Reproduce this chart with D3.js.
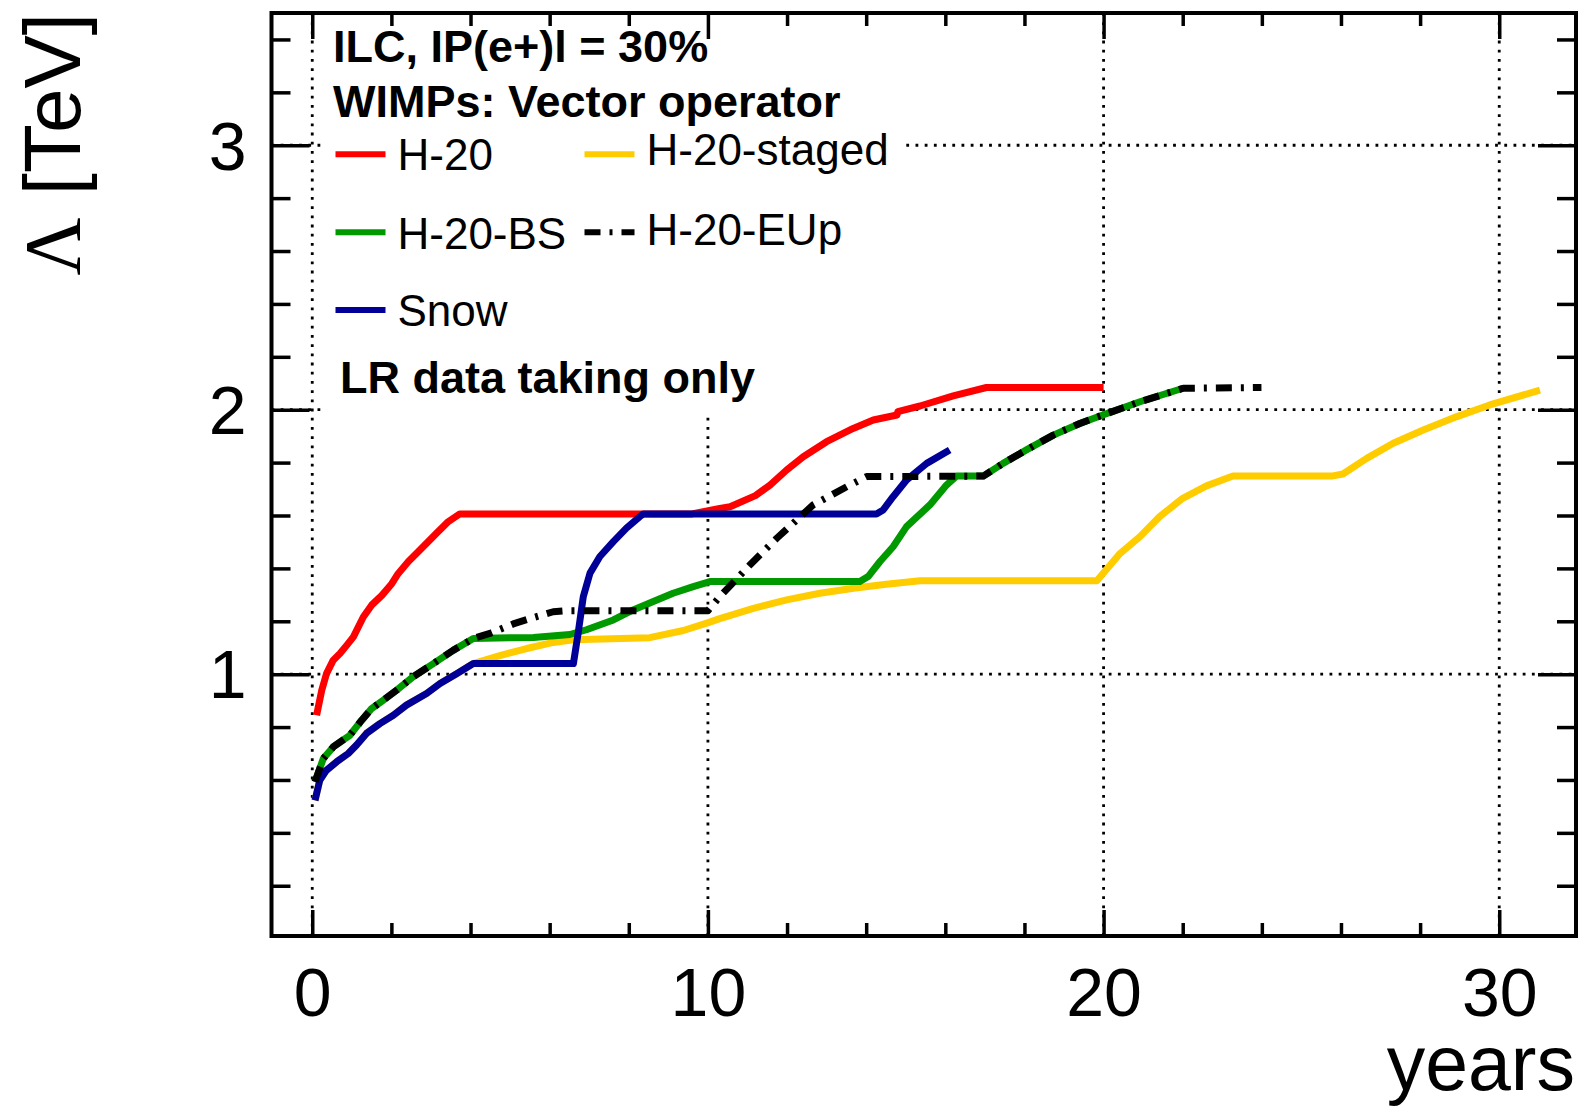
<!DOCTYPE html>
<html lang="en">
  <head>
    <meta charset="utf-8">
    <title>WIMPs vector operator reach vs years</title>
    <style>
      body { margin: 0; background: #fff; }
      text { font-family: "Liberation Sans", Arial, Helvetica, sans-serif; }
      .curve { fill: none; stroke-width: 7; stroke-linejoin: round; }
    </style>
    <script type="text/javascript" src="https://cdn.jsdelivr.net/npm/d3@7"></script>
  </head>
  <body>
  <svg width="1586" height="1107"></svg>
    <script>
// tick values
var xMajor = [0, 10, 20, 30];
var xMinor = [2, 4, 6, 8, 12, 14, 16, 18, 22, 24, 26, 28];
var yMajor = [1, 2, 3];
var yMinor = [0.2, 0.4, 0.6, 0.8, 1.2, 1.4, 1.6, 1.8, 2.2, 2.4, 2.6, 2.8, 3.2, 3.4];

// series: [years, Lambda in TeV]
var h20 = [[0.11,0.845],[0.24,0.939],[0.36,1.002],[0.53,1.053],[0.70,1.078],[0.87,1.109],[1.04,1.141],
  [1.29,1.216],[1.50,1.261],[1.76,1.298],[2.01,1.342],[2.17,1.38],[2.43,1.426],[2.64,1.457],[2.89,1.495],
  [3.14,1.533],[3.44,1.577],[3.73,1.606],[9.60,1.606],[10.30,1.627],[10.56,1.633],[11.20,1.675],[11.57,1.715],
  [11.99,1.772],[12.41,1.822],[13.0,1.879],[13.67,1.929],[14.18,1.961],[14.78,1.980],[14.80,1.993],
  [15.36,2.014],[16.20,2.052],[17.04,2.084],[20.0,2.084]];

var h20staged = [[0.07,0.523],[0.19,0.599],[0.36,0.637],[0.62,0.669],[0.91,0.70],[1.12,0.732],[1.37,0.776],
  [1.71,0.813],[2.05,0.845],[2.38,0.883],[2.89,0.927],[3.23,0.965],[3.65,1.002],[4.07,1.04],[4.74,1.07],
  [5.42,1.097],[6.09,1.12],[6.60,1.13],[8.53,1.138],[9.38,1.165],[9.97,1.193],[10.30,1.21],[11.15,1.249],
  [11.99,1.281],[12.83,1.306],[13.68,1.325],[14.51,1.34],[15.36,1.353],[19.83,1.353],[20.42,1.457],
  [20.92,1.52],[21.42,1.596],[22.0,1.665],[22.6,1.712],[23.27,1.749],[25.76,1.749],[26.05,1.757],
  [26.65,1.816],[27.32,1.873],[28.08,1.923],[28.93,1.974],[29.76,2.018],[31.03,2.074]];

var h20bs = [[0.07,0.593],[0.28,0.681],[0.53,0.725],[0.95,0.769],[1.25,0.826],[1.50,0.870],[1.79,0.901],
  [2.13,0.939],[2.55,0.99],[3.06,1.04],[3.56,1.09],[4.07,1.135],[5.59,1.139],[6.51,1.150],[6.93,1.168],
  [7.61,1.205],[8.11,1.243],[8.62,1.275],[9.12,1.306],[9.63,1.331],[10.05,1.35],[13.84,1.35],[14.05,1.369],
  [14.35,1.426],[14.68,1.482],[15.02,1.558],[15.61,1.64],[16.03,1.715],[16.28,1.749],[16.96,1.749],
  [17.46,1.797],[18.05,1.848],[18.73,1.904],[19.40,1.948],[19.98,1.98],[20.92,2.03],[22.01,2.081]];

var snow = [[0.07,0.523],[0.19,0.599],[0.36,0.637],[0.62,0.669],[0.91,0.70],[1.12,0.732],[1.37,0.776],
  [1.71,0.813],[2.05,0.845],[2.38,0.883],[2.89,0.927],[3.23,0.965],[3.65,1.002],[4.07,1.04],[6.60,1.04],
  [6.72,1.155],[6.85,1.293],[7.02,1.382],[7.27,1.445],[7.61,1.501],[7.94,1.552],[8.28,1.596],[8.37,1.606],
  [14.26,1.606],[14.43,1.621],[14.68,1.671],[15.02,1.734],[15.53,1.797],[16.11,1.848]];

var h20eup = [[0.07,0.593],[0.28,0.681],[0.53,0.725],[0.95,0.769],[1.25,0.826],[1.50,0.870],[1.79,0.901],
  [2.13,0.939],[2.55,0.99],[3.06,1.04],[3.56,1.09],[4.07,1.135],[4.49,1.154],[5.08,1.19],[5.59,1.214],
  [6.09,1.236],[6.43,1.24],[10.0,1.24],[10.30,1.293],[11.06,1.413],[11.74,1.514],[12.20,1.577],[12.66,1.64],
  [13.51,1.709],[14.01,1.747],[16.96,1.749],[17.46,1.797],[18.05,1.848],[18.73,1.904],[19.40,1.948],
  [19.98,1.98],[20.92,2.03],[22.01,2.081],[23.99,2.084]];

var svg = d3.select("svg"),
    frameL = 271.5, frameR = 1576, frameT = 13, frameB = 936;

var xScale = d3.scaleLinear().domain([-1.03, 31.94]).range([frameL, frameR]);
var yScale = d3.scaleLinear().domain([0.01, 3.5]).range([frameB, frameT]);

//grid
svg.append("g").selectAll("line").data(xMajor).enter().append("line")
    .attr("x1", d => xScale(d)).attr("x2", d => xScale(d))
    .attr("y1", frameT).attr("y2", frameB)
    .attr("stroke", "#000").attr("stroke-width", 2.8).attr("stroke-dasharray", "2.8 6.4");
svg.append("g").selectAll("line").data(yMajor).enter().append("line")
    .attr("x1", frameL).attr("x2", frameR)
    .attr("y1", d => yScale(d)).attr("y2", d => yScale(d))
    .attr("stroke", "#000").attr("stroke-width", 2.8).attr("stroke-dasharray", "2.8 6.4");

//legend box (hides grid behind it)
svg.append("rect").attr("x", 322).attr("y", 15).attr("width", 578).attr("height", 401).attr("fill", "#fff");

//curves
var line = d3.line().x(d => xScale(d[0])).y(d => yScale(d[1]));
var series = [
  {name: "H-20", data: h20, color: "#ff0000", dash: null},
  {name: "H-20-staged", data: h20staged, color: "#ffcc00", dash: null},
  {name: "H-20-BS", data: h20bs, color: "#009900", dash: null},
  {name: "Snow", data: snow, color: "#000099", dash: null},
  {name: "H-20-EUp", data: h20eup, color: "#000000", dash: "16 9 3 9"}
];
svg.append("g").selectAll("path").data(series).enter().append("path")
    .attr("class", "curve")
    .attr("d", d => line(d.data))
    .attr("stroke", d => d.color)
    .attr("stroke-dasharray", d => d.dash);

//frame and ticks
function ticks(axis, pos, vals, size) {
  var g = svg.append("g").attr("transform", pos)
      .call(axis.tickValues(vals).tickSize(-size).tickFormat(""));
  g.select(".domain").remove();
  g.selectAll("line").attr("stroke-width", 3.5);
}
ticks(d3.axisBottom(xScale), "translate(0," + frameB + ")", xMajor, 26);
ticks(d3.axisBottom(xScale), "translate(0," + frameB + ")", xMinor, 13);
ticks(d3.axisTop(xScale), "translate(0," + frameT + ")", xMajor, 26);
ticks(d3.axisTop(xScale), "translate(0," + frameT + ")", xMinor, 13);
ticks(d3.axisLeft(yScale), "translate(" + frameL + ",0)", yMajor, 38);
ticks(d3.axisLeft(yScale), "translate(" + frameL + ",0)", yMinor, 19);
ticks(d3.axisRight(yScale), "translate(" + frameR + ",0)", yMajor, 38);
ticks(d3.axisRight(yScale), "translate(" + frameR + ",0)", yMinor, 19);

svg.append("rect").attr("x", frameL).attr("y", frameT)
    .attr("width", frameR - frameL).attr("height", frameB - frameT)
    .attr("fill", "none").attr("stroke", "#000").attr("stroke-width", 4);

//tick labels
var xl = svg.append("g").attr("transform", "translate(0," + frameB + ")")
    .call(d3.axisBottom(xScale).tickValues(xMajor).tickFormat(d3.format("d")).tickSize(0).tickPadding(32));
xl.select(".domain").remove();
xl.attr("font-size", 68).attr("font-family", null);

var yl = svg.append("g").attr("transform", "translate(" + frameL + ",0)")
    .call(d3.axisLeft(yScale).tickValues(yMajor).tickFormat(d3.format("d")).tickSize(0).tickPadding(25));
yl.select(".domain").remove();
yl.attr("font-size", 68).attr("font-family", null);
yl.selectAll("text").attr("dy", "0.35em");

//axis titles
svg.append("text").attr("x", 1575).attr("y", 1090)
    .attr("text-anchor", "end").attr("font-size", 77).text("years");
var yt = svg.append("text").attr("transform", "translate(80,13) rotate(-90)")
    .attr("text-anchor", "end").attr("font-size", 80);
yt.append("tspan").attr("font-family", "'Liberation Serif', 'DejaVu Serif', serif").text("Λ");
yt.append("tspan").text(" [TeV]");

//legend
svg.append("text").attr("x", 333).attr("y", 62).attr("font-size", 45).attr("font-weight", "bold")
    .text("ILC, IP(e+)l = 30%");
svg.append("text").attr("x", 333).attr("y", 117).attr("font-size", 45).attr("font-weight", "bold")
    .text("WIMPs: Vector operator");
svg.append("text").attr("x", 340).attr("y", 393).attr("font-size", 45).attr("font-weight", "bold")
    .text("LR data taking only");

var legendPos = {
  "H-20": [335.5, 154.3, 0],
  "H-20-staged": [584.5, 154.3, -5],
  "H-20-BS": [335.5, 232.3, 1],
  "H-20-EUp": [584.5, 232.3, -3],
  "Snow": [335.5, 310, 0]
};
var leg = svg.append("g").selectAll("g").data(series).enter().append("g");
leg.append("line")
    .attr("x1", d => legendPos[d.name][0]).attr("x2", d => legendPos[d.name][0] + 50)
    .attr("y1", d => legendPos[d.name][1]).attr("y2", d => legendPos[d.name][1])
    .attr("stroke", d => d.color).attr("stroke-width", 6)
    .attr("stroke-dasharray", d => d.dash);
leg.append("text")
    .attr("x", d => legendPos[d.name][0] + 62)
    .attr("y", d => legendPos[d.name][1] + 16 + legendPos[d.name][2])
    .attr("font-size", 44)
    .text(d => d.name);
    </script>
  </body>
</html>
